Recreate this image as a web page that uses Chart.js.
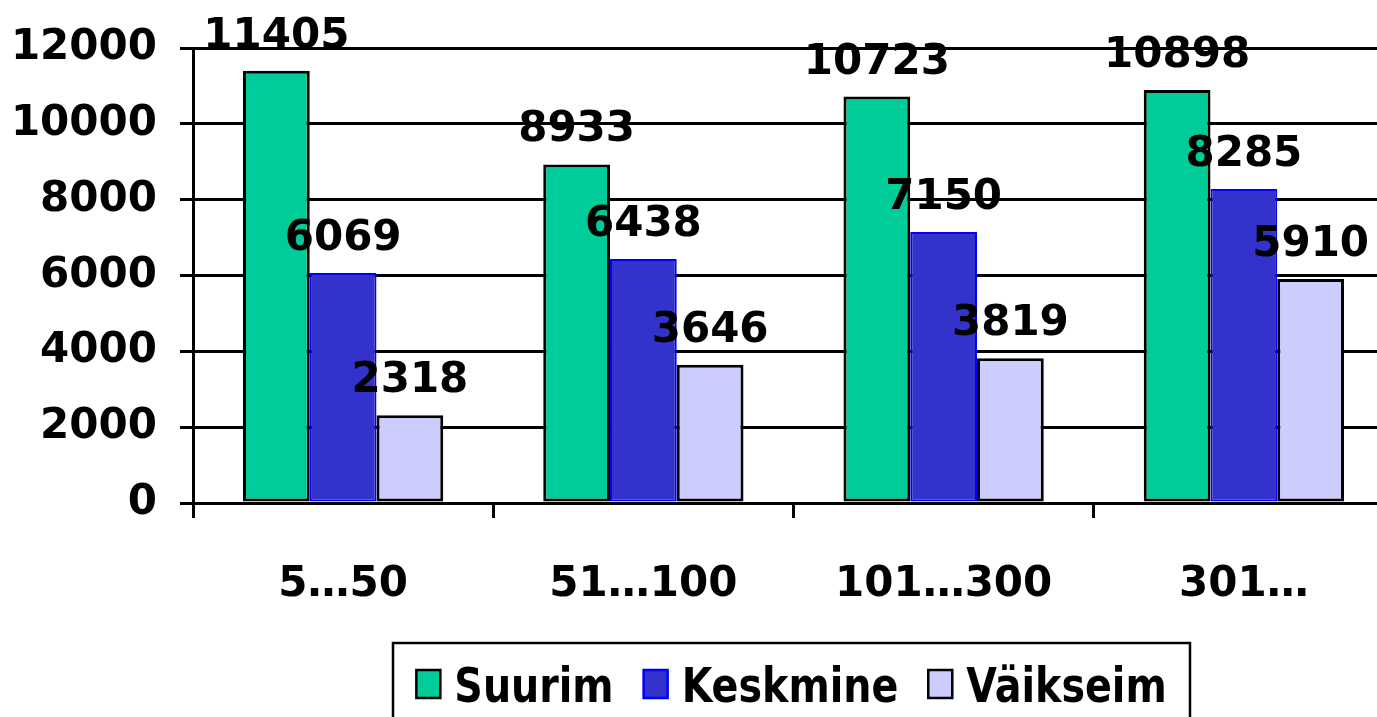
<!DOCTYPE html>
<html>
<head>
<meta charset="utf-8">
<script src="https://cdn.jsdelivr.net/npm/chart.js@4.4.1/dist/chart.umd.min.js"></script>
<style>
    html, body { margin: 0; padding: 0; background: #ffffff; overflow: hidden; }
    #wrap { position: relative; width: 1395px; height: 717px; }
</style>
</head>
<body>
<div id="wrap"><canvas id="sizeChart"></canvas></div>
<script>
// ============================================
// DATA
// ============================================
const categories = ['5…50', '51…100', '101…300', '301…'];
const seriesNames = ['Suurim', 'Keskmine', 'Väikseim'];
const suurim = [11405, 8933, 10723, 10898];
const keskmine = [6069, 6438, 7150, 8285];
const vaikseim = [2318, 3646, 3819, 5910];
const yTicks = [0, 2000, 4000, 6000, 8000, 10000, 12000];

const fills = ['#00CC99', '#3333CC', '#CCCCFF'];
const borders = ['#000000', '#0000FF', '#000000'];
const FONT = '"DejaVu Sans", Verdana, sans-serif';

// Value labels above each bar
const valueLabels = {
    id: 'valueLabels',
    afterDatasetsDraw(chart) {
        const ctx = chart.ctx;
        ctx.save();
        ctx.font = 'bold 42px ' + FONT;
        ctx.fillStyle = '#000000';
        ctx.textAlign = 'center';
        ctx.textBaseline = 'alphabetic';
        chart.data.datasets.forEach((ds, i) => {
            chart.getDatasetMeta(i).data.forEach((bar, j) => {
                ctx.fillText(String(ds.data[j]), bar.x, bar.y - 23);
            });
        });
        ctx.restore();
    }
};

// Boxed legend at the bottom (centered on the plot area like the original)
const boxLegend = {
    id: 'boxLegend',
    afterDraw(chart) {
        const ctx = chart.ctx;
        const boxL = 393, boxR = 1190, boxT = 643;
        ctx.save();
        ctx.lineWidth = 2.5;
        ctx.strokeStyle = '#000000';
        ctx.strokeRect(boxL, boxT, boxR - boxL, 120);

        const sx = 0.825;
        ctx.font = 'bold 48px ' + FONT;
        const widths = seriesNames.map(n => ctx.measureText(n).width * sx);
        const markW = 24, markH = 28, markGap = 14, itemGap = 30;
        let total = 0;
        widths.forEach((w, i) => { total += markW + markGap + w + (i < widths.length - 1 ? itemGap : 0); });
        let x = (boxL + boxR) / 2 - total / 2;
        seriesNames.forEach((name, i) => {
            ctx.fillStyle = fills[i];
            ctx.fillRect(x, 670, markW, markH);
            ctx.lineWidth = 2.5;
            ctx.strokeStyle = borders[i];
            ctx.strokeRect(x, 670, markW, markH);
            x += markW + markGap;
            ctx.save();
            ctx.translate(x, 702);
            ctx.scale(sx, 1);
            ctx.fillStyle = '#000000';
            ctx.textAlign = 'left';
            ctx.textBaseline = 'alphabetic';
            ctx.fillText(name, 0, 0);
            ctx.restore();
            x += widths[i] + itemGap;
        });
        ctx.restore();
    }
};

const ctx = document.getElementById('sizeChart').getContext('2d');
const sizeChart = new Chart(ctx, {
    type: 'bar',
    data: {
        labels: categories,
        datasets: [suurim, keskmine, vaikseim].map((values, i) => ({
            label: seriesNames[i],
            data: values,
            backgroundColor: fills[i],
            borderColor: borders[i],
            borderWidth: i === 1 ? 2 : 3,
            borderSkipped: false,
            categoryPercentage: 0.667,
            barPercentage: 1.0
        }))
    },
    options: {
        responsive: true,
        maintainAspectRatio: false,
        animation: false,
        layout: { padding: { top: 48, right: 1, bottom: 0, left: 0 } },
        plugins: {
            legend: { display: false },
            tooltip: { enabled: false }
        },
        scales: {
            x: {
                grid: {
                    offset: true,
                    drawOnChartArea: false,
                    color: '#000000',
                    lineWidth: 3,
                    tickLength: 15
                },
                border: { color: '#000000', width: 3 },
                ticks: {
                    color: '#000000',
                    font: { family: FONT, size: 42, weight: 'bold' },
                    padding: 42,
                    maxRotation: 0
                },
                afterFit(scale) { scale.height = 717 - 503; }
            },
            y: {
                min: 0,
                max: 12000,
                afterBuildTicks(scale) { scale.ticks = yTicks.map(v => ({ value: v })); },
                grid: {
                    color: '#000000',
                    lineWidth: 3,
                    tickLength: 13
                },
                border: { color: '#000000', width: 3 },
                ticks: {
                    color: '#000000',
                    font: { family: FONT, size: 42, weight: 'bold' },
                    padding: 23,
                    callback: (value) => String(value)
                },
                afterFit(scale) { scale.width = 193; }
            }
        }
    },
    plugins: [valueLabels, boxLegend]
});
</script>
</body>
</html>
